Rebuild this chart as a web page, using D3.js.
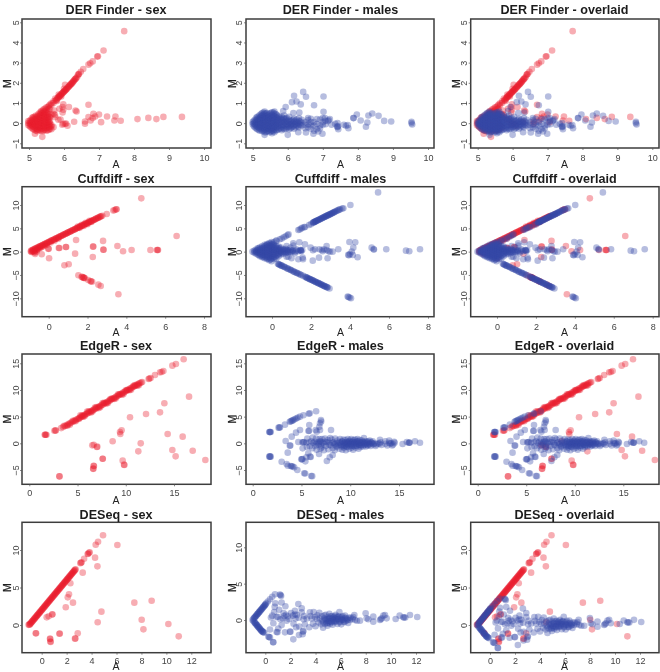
<!DOCTYPE html>
<html><head><meta charset="utf-8">
<script src="https://cdn.jsdelivr.net/npm/d3@7/dist/d3.min.js"></script>
<style>
html,body{margin:0;padding:0;background:#fff;overflow:hidden}
svg{display:block;filter:blur(0.45px)}
text{font-family:"Liberation Sans",Arial,sans-serif}
</style></head><body>
<script>
// ---------- tick labels ----------
const derX=[5,6,7,8,9,10], derY=[-1,0,1,2,3,4,5];
const cuffX=[0,2,4,6,8], cuffY=[-10,-5,0,5,10];
const edgeX=[0,5,10,15], edgeY=[-5,0,5,10,15];
const deseqX=[0,2,4,6,8,10,12], deseqY=[0,5,10];
const methods=["DER Finder","Cuffdiff","EdgeR","DESeq"];
const variants=["sex","males","overlaid"];

// ---------- series values [A, M] ----------
const derSex=[[7.72,4.56],[7.13,3.6],[6.95,3.3],[6.97,3.32],[6.82,3.06],[6.75,2.97],[6.7,2.9],[6.55,2.68],[6.48,2.55],[6.42,2.42],[6.43,2.45],[6.4,2.4],
[9.37,.31],[8.84,.31],[8.64,.2],[8.41,.26],[8.1,.2],[7.62,.12],[7.47,.33],[7.44,.13],[7.23,.33],[7.06,.05],[7,.43],[6.84,.46],[6.7,.91],[6.6,.08],[6.6,-.03],[6.7,.3],[6.82,.25],[6.76,.13],[6.89,.33],[6.29,.07],[6.1,-.13],[6.03,-.03],[5.98,-.03],[6.06,-.02],[6.36,.58],[6.33,.63],[6.14,.8],[5.98,.94],[5.96,.8],[5.98,.66],[5.87,.71],[5.96,.53],[5.74,.41],[5.75,.3],[5.84,.17],[5.38,-.68],[5.17,-.53],[5.72,.62],[5.95,-.08],[5.9,.18],
[4.98,0],[4.98,-.1],[4.98,.1],[5.05,-.2],[5.05,-.08],[5.05,.04],[5.05,.16],[5.12,-.3],[5.12,-.17],[5.12,-.04],[5.12,.09],[5.12,.22],[5.12,.3],
[5.2,-.38],[5.2,-.25],[5.2,-.12],[5.2,.01],[5.2,.14],[5.2,.27],[5.2,.38],[5.27,-.33],[5.27,-.2],[5.27,-.07],[5.27,.06],[5.27,.19],[5.27,.32],[5.27,.45],
[5.35,-.38],[5.35,-.25],[5.35,-.12],[5.35,.01],[5.35,.14],[5.35,.27],[5.35,.4],[5.35,.53],[5.35,.6],[5.42,-.35],[5.42,-.22],[5.42,-.09],[5.42,.04],[5.42,.17],[5.42,.3],[5.42,.43],[5.42,.56],[5.42,.68],
[5.5,-.38],[5.5,-.25],[5.5,-.12],[5.5,.01],[5.5,.14],[5.5,.27],[5.5,.4],[5.5,.53],[5.5,.66],[5.5,.78],[5.57,-.33],[5.57,-.2],[5.57,-.07],[5.57,.06],[5.57,.19],[5.57,.32],[5.57,.45],[5.57,.72],[5.57,.86],
[5.64,-.3],[5.64,-.17],[5.64,-.1],[5.64,.42],[5.64,.9],[5.64,.98],[5.7,-.2],[5.7,.45],[5.7,1],[5.7,1.08],
[5.76,1.12],[5.8,1.2],[5.82,1.26],[5.85,1.3],[5.88,1.36],[5.9,1.4],[5.93,1.45],[5.96,1.5],[5.99,1.55],[6.02,1.6],[6.05,1.65],[6.08,1.7],[6.1,1.75],[6.13,1.8],[6.16,1.86],[6.19,1.92],[6.22,1.97],[6.25,2.03],[6.28,2.1],[6.3,2.15],[6.33,2.2],[6.03,1.9],[5.8,1.1],[5.75,1.22],[5.85,1.42],[5.92,1.32],[6,1.7],
[5.02,-.14],[5.02,-.02],[5.02,.1],[5.09,-.25],[5.09,-.12],[5.09,.01],[5.09,.14],[5.09,.26],[5.16,-.33],[5.16,-.2],[5.16,-.07],[5.16,.06],[5.16,.19],[5.16,.32],[5.24,-.4],[5.24,-.3],[5.24,-.17],[5.24,-.04],[5.24,.09],[5.24,.22],[5.24,.35],[5.31,-.35],[5.31,-.22],[5.31,-.09],[5.31,.04],[5.31,.17],[5.31,.3],[5.31,.43],[5.31,.52],[5.39,-.4],[5.39,-.28],[5.39,-.15],[5.39,-.02],[5.39,.11],[5.39,.24],[5.39,.37],[5.39,.5],[5.39,.62],[5.46,-.33],[5.46,-.2],[5.46,-.07],[5.46,.06],[5.46,.19],[5.46,.32],[5.46,.45],[5.46,.58],[5.46,.72],[5.54,-.35],[5.54,-.22],[5.54,-.09],[5.54,.04],[5.54,.17],[5.54,.3],[5.54,.43],[5.54,.6],[5.54,.8],[5.6,-.28],[5.6,-.15],[5.6,-.02],[5.6,.11],[5.6,.3],[5.6,.7],[5.6,.92],
[5.78,1.15],[5.84,1.27],[5.87,1.33],[5.91,1.38],[5.95,1.47],[5.98,1.53],[6.01,1.58],[6.04,1.63],[6.07,1.68],[6.12,1.78],[6.15,1.84],[6.18,1.9],[6.21,1.95],[6.24,2.01],[6.27,2.08],[6.32,2.18],[6.35,2.24],[6.38,2.3]];

const derMale=[[9.53,.07],[9.55,-.07],[9.53,0],[8.95,.08],[8.75,.11],[8.59,.36],[8.41,.48],[8.3,.38],[8.27,.03],[8.23,-.18],[8.08,.13],[7.97,.43],[7.87,.25],[7.88,.25],[7.73,-.25],[7.71,-.1],[7.6,-.08],[7.66,-.13],[7.41,-.17],[7.42,-.2],[7.43,-.15],[7.42,0],[7.44,-.3],[7.25,-.08],[7.35,-.03],[7.2,.2],[7.02,1.32],[7.02,.56],[7.06,.25],[6.99,-.53],[6.87,-.41],[6.73,-.53],[6.52,-.46],[6.75,.89],[6.52,1.31],[6.44,1.55],[6.18,1.36],[6.25,1.07],[6.12,1.04],[6.37,.93],[6.33,.53],[6.16,.5],[5.94,.8],[5.87,.6],[6,-.58],[6.3,-.45],
[5,-.05],[5,.05],[5.06,-.2],[5.06,-.08],[5.06,.04],[5.06,.16],[5.13,-.3],[5.13,-.17],[5.13,-.04],[5.13,.09],[5.13,.22],[5.13,.32],[5.2,-.38],[5.2,-.25],[5.2,-.12],[5.2,.01],[5.2,.14],[5.2,.27],[5.2,.4],
[5.27,-.4],[5.27,-.27],[5.27,-.14],[5.27,-.01],[5.27,.12],[5.27,.25],[5.27,.38],[5.27,.5],[5.34,-.58],[5.34,-.45],[5.34,-.32],[5.34,-.19],[5.34,-.06],[5.34,.07],[5.34,.2],[5.34,.33],[5.34,.46],[5.34,.58],
[5.41,-.4],[5.41,-.27],[5.41,-.14],[5.41,-.01],[5.41,.12],[5.41,.25],[5.41,.38],[5.41,.5],[5.48,-.45],[5.48,-.32],[5.48,-.19],[5.48,-.06],[5.48,.07],[5.48,.2],[5.48,.33],[5.48,.46],
[5.55,-.5],[5.55,-.37],[5.55,-.24],[5.55,-.11],[5.55,.02],[5.55,.15],[5.55,.28],[5.55,.41],[5.55,.54],[5.62,-.45],[5.62,-.32],[5.62,-.19],[5.62,-.06],[5.62,.07],[5.62,.2],[5.62,.33],[5.62,.46],[5.62,.58],
[5.69,-.35],[5.69,-.2],[5.69,-.05],[5.69,.1],[5.69,.25],[5.69,.4],[5.76,-.25],[5.76,-.1],[5.76,.05],[5.76,.2],[5.76,.35],[5.83,-.35],[5.83,-.18],[5.83,0],[5.83,.15],[5.83,.3],[5.9,-.3],[5.9,-.12],[5.9,.04],[5.9,.2],[5.9,.38],[5.97,-.2],[5.97,-.05],[5.97,.1],[5.97,.25],
[6.04,-.3],[6.04,-.14],[6.04,.02],[6.04,.17],[6.04,.32],[6.11,-.2],[6.11,-.04],[6.11,.12],[6.18,-.28],[6.18,-.1],[6.18,.06],[6.18,.22],[6.25,-.12],[6.25,.04],[6.25,.18],[6.32,-.22],[6.32,-.05],[6.32,.1],[6.32,.25],[6.4,-.12],[6.4,.02],[6.4,.16],[6.5,-.1],[6.5,.05],[6.5,-.25],[6.58,-.2],[6.58,-.05],[6.58,.25],[6.58,.15],[6.66,-.28],[6.66,-.1],[6.66,.05],[6.66,.22],[6.75,-.38],[6.75,-.12],[6.75,.05],[6.83,-.05],[6.83,.2],[6.83,-.3],[6.92,.18],[6.92,-.12],[6.92,-.25],[7,-.08],[7,.05],[7,.25],[7.08,-.05],[7.08,.12],[7.15,.1],[7.17,.15],
[5.03,-.14],[5.03,-.02],[5.03,.1],[5.1,-.25],[5.1,-.12],[5.1,.01],[5.1,.14],[5.1,.27],[5.17,-.33],[5.17,-.2],[5.17,-.07],[5.17,.06],[5.17,.19],[5.17,.33],[5.24,-.32],[5.24,-.18],[5.24,-.05],[5.24,.08],[5.24,.21],[5.24,.34],[5.24,.45],[5.31,-.38],[5.31,-.25],[5.31,-.12],[5.31,.01],[5.31,.14],[5.31,.27],[5.31,.4],[5.31,.52],[5.38,-.45],[5.38,-.3],[5.38,-.17],[5.38,-.04],[5.38,.09],[5.38,.22],[5.38,.35],[5.38,.48],[5.45,-.38],[5.45,-.25],[5.45,-.12],[5.45,.01],[5.45,.14],[5.45,.27],[5.45,.4],[5.52,-.42],[5.52,-.3],[5.52,-.17],[5.52,-.04],[5.52,.09],[5.52,.22],[5.52,.35],[5.52,.5],[5.59,-.4],[5.59,-.27],[5.59,-.14],[5.59,-.01],[5.59,.12],[5.59,.25],[5.59,.38],[5.59,.52],[5.66,-.35],[5.66,-.22],[5.66,-.09],[5.66,.04],[5.66,.17],[5.66,.3],[5.66,.45],[5.73,-.3],[5.73,-.15],[5.73,0],[5.73,.15],[5.73,.3],[5.8,-.28],[5.8,-.12],[5.8,.05],[5.8,.22],[5.87,-.25],[5.87,-.08],[5.87,.08],[5.87,.25],[5.94,-.28],[5.94,-.1],[5.94,.06],[5.94,.22],[6.01,-.2],[6.01,-.05],[6.01,.12],[6.08,-.25],[6.08,-.08],[6.08,.08],[6.15,-.15],[6.15,.02],[6.15,.16],[6.22,-.2],[6.22,-.05],[6.22,.1],[6.3,-.15],[6.3,.02],[6.36,-.08],[6.36,.08]];

const cuffSex=[[4.77,11.43],[6.59,3.36],[3.47,9.07],[3.4,8.93],[3.33,8.8],[3.5,9.1],[2.99,8.07],[5.61,.36],[5.63,.36],[5.57,.36],[5.24,.36],[4.27,.36],[3.83,.07],[3.54,1.2],[2.8,2.3],[2.82,.43],[2.82,.4],[2.28,1.07],[2.3,1.1],[2.27,-1.14],[1.41,2.5],[1.36,-.43],[.9,1],[.88,1],[.55,.79],[.52,.79],[-.02,.64],[0,.6],[.02,-1.43],[-.36,-.57],[-.7,-.5],[.81,-2.93],[1.03,-2.71],[1.53,-5.07],[1.7,-5.43],[1.72,-5.4],[1.78,-5.57],[1.8,-5.57],[1.87,-5.7],[1.82,-5.62],[2.04,-6.07],[2.16,-6.36],[2.18,-6.36],[2.24,-6.45],[2.56,-7.07],[2.68,-7.36],[3.59,-9.14],
[-.9,.21],[-.84,.33],[-.78,.45],[-.72,.57],[-.66,.7],[-.6,.82],[-.54,.94],[-.48,1.07],[-.42,1.19],[-.36,1.31],[-.3,1.44],[-.24,1.56],[-.18,1.68],[-.12,1.8],[-.06,1.93],[0,2.05],[.06,2.17],[.12,2.3],[.18,2.42],[.24,2.54],[.3,2.67],[.36,2.79],[.42,2.91],[.48,3.03],[.54,3.16],[.6,3.28],[.66,3.4],[.72,3.53],[.78,3.65],[.84,3.77],[.9,3.9],[.96,4.02],[1.02,4.14],[1.08,4.26],[1.14,4.39],[1.2,4.51],[1.26,4.63],[1.32,4.76],[1.38,4.88],[1.44,5],[1.5,5.13],[1.56,5.25],[1.62,5.37],[1.68,5.49],[1.74,5.62],[1.8,5.74],[1.86,5.86],[1.92,5.99],[1.98,6.11],[2.04,6.23],[2.1,6.36],[2.16,6.48],[2.22,6.6],[2.28,6.72],[2.34,6.85],[2.4,6.97],[2.46,7.09],[2.52,7.22],[2.58,7.34],[2.64,7.46],[2.7,7.59],[2.76,7.71],
[-.92,.05],[-.88,-.1],[-.85,.1],[-.8,.1],[-.76,-.1],[-.72,.2],[-.7,-.2],[-.66,.3],[-.62,.05],[-.6,.4],[-.56,.55],[-.5,.7],[-.44,.85],[-.38,.95],[-.3,1.1],[-.2,1.3],[-.1,1.5],[.1,1.95],[.3,2.35],[.5,2.75],[1.5,5.4],[1.6,5.1],[1.7,5.75],[1.8,5.5],[1.9,6.2],[2,5.9],[2.1,6.6],[2.2,6.35],
[-.81,.39],[-.69,.64],[-.57,.88],[-.45,1.13],[-.33,1.38],[-.21,1.62],[-.09,1.86],[.03,2.11],[.15,2.36],[.27,2.6],[.39,2.85],[.51,3.09],[.63,3.34],[.75,3.59],[.87,3.84],[.99,4.08],[1.11,4.33],[1.23,4.57],[1.35,4.82],[1.47,5.06],[1.59,5.31],[1.71,5.56],[1.83,5.8],[1.95,6.05],[2.07,6.3],[2.19,6.54],[2.31,6.79],[2.43,7.03],[2.55,7.28],[2.67,7.52]];

const cuffMale=[[5.44,12.7],[4.02,10],[3.66,9.3],[3.6,9.25],[.1,2],[.2,2.3],[.24,2.36],[.4,2.65],[.5,2.8],[.6,3.1],[.7,3.3],[.8,3.55],[.85,3.7],[1.35,4.64],[1.42,4.75],[1.5,4.95],[1.55,5.1],[1.65,5.25],[1.7,5.3],[1.9,5.7],[2,5.9],
[2.1,6.2],[2.14,6.3],[2.18,6.38],[2.22,6.46],[2.26,6.55],[2.3,6.63],[2.35,6.74],[2.4,6.84],[2.45,6.95],[2.5,7.05],[2.55,7.15],[2.6,7.25],[2.65,7.36],[2.7,7.46],[2.75,7.56],[2.8,7.67],[2.85,7.77],[2.9,7.87],[2.95,7.98],[3,8.08],[3.05,8.18],[3.1,8.29],[3.15,8.39],[3.2,8.49],[3.25,8.6],[3.3,8.7],[3.35,8.8],[3.4,8.9],[3.45,9],[3.5,9.1],
[2.12,6.25],[2.2,6.42],[2.28,6.6],[2.38,6.8],[2.48,7],[2.58,7.2],[2.68,7.42],[2.78,7.62],[2.88,7.82],[2.98,8.03],[3.08,8.24],[3.18,8.44],
[.3,-2.6],[.34,-2.7],[.4,-2.8],[.46,-2.95],[.52,-3.05],[.6,-3.2],[.68,-3.35],[.76,-3.55],[.84,-3.7],[.92,-3.85],[1,-4],[1.08,-4.2],[1.16,-4.35],[1.24,-4.5],[1.32,-4.65],[1.4,-4.8],[1.5,-5],[1.7,-5.4],[1.75,-5.5],[1.8,-5.6],[1.85,-5.7],[1.9,-5.8],[1.95,-5.9],[2,-6],[2.05,-6.1],[2.1,-6.2],[2.15,-6.3],[2.2,-6.4],[2.25,-6.5],[2.3,-6.6],[2.35,-6.7],[2.4,-6.8],[2.45,-6.9],[2.5,-7],[2.55,-7.1],[2.6,-7.2],[2.65,-7.3],[2.7,-7.4],[2.75,-7.5],[2.8,-7.6],[2.85,-7.7],[2.95,-7.9],
[.37,-2.75],[.49,-3],[.64,-3.28],[.8,-3.62],[.96,-3.93],[1.12,-4.28],[1.28,-4.58],[1.45,-4.9],[1.6,-5.2],[1.78,-5.55],[1.93,-5.85],[2.08,-6.15],[2.23,-6.45],[2.38,-6.75],[2.53,-7.05],[2.68,-7.35],[2.83,-7.65],
[3.88,-9.64],[3.92,-9.71],[4.05,-10],[3.98,-9.85],[7.59,.5],[7.04,.07],[6.87,.21],[5.86,.5],[5.21,.5],[5.23,.45],[5.11,.86],[4.39,-1.2],[4.27,2],[3.97,2.07],[4.17,.86],[4.09,0],[4.14,-.7],[4,-.5],[3.91,-.7],[3.95,-.75],[3.4,.5],[3.11,0],[2.97,0],[2.8,1.2],[2.85,-1.43],[2.41,-1.29],[2.09,-1.93],[1.98,.86],[2.2,.5],[2.55,.36],[2.67,.5],[2.8,.36],[2.9,.1],[2.6,.1],[2.1,.3],[2.43,.5],[1.69,1.57],[1.4,2],[1.09,1.79],[1.59,-1.64],[1.57,-1.29],[1.35,-1.64],[1.47,.36],[1.48,.2],[1.46,.36],[1.5,.1],[1.55,.35],[1.17,-.36],[1,0],[.84,-1.07],[1,-1.43],[.75,-1.07],[1.25,.5],[1.1,1.3],[.95,.9],[.75,1.2],
[-1,0],[-.92,-.2],[-.92,.2],[-.84,-.4],[-.84,0],[-.84,.4],[-.74,-.6],[-.74,-.1],[-.74,.4],[-.74,.7],[-.62,-1],[-.62,-.5],[-.62,0],[-.62,.5],[-.62,.95],[-.5,-1.2],[-.5,-.7],[-.5,-.2],[-.5,.3],[-.5,.8],[-.5,1.2],[-.38,-1.4],[-.38,-.9],[-.38,-.4],[-.38,.1],[-.38,.6],[-.38,1.1],[-.38,1.45],[-.26,-1.6],[-.26,-1.1],[-.26,-.6],[-.26,-.1],[-.26,.4],[-.26,.9],[-.26,1.4],[-.26,1.65],[-.14,-1.85],[-.14,-1.3],[-.14,-.8],[-.14,-.3],[-.14,.2],[-.14,.7],[-.14,1.2],[-.14,1.85],[-.02,-2.05],[-.02,-1.5],[-.02,-1],[-.02,-.5],[-.02,0],[-.02,.5],[-.02,1],[-.02,1.5],[-.02,2.05],[.1,-1.6],[.1,-1.1],[.1,-.6],[.1,-.1],[.1,.4],[.1,.9],[.1,1.4],[.22,-1.5],[.22,-.8],[.22,-.3],[.22,.2],[.22,.7],[.22,1.2],[.34,-1],[.34,-.5],[.34,0],[.34,.5],[.34,1.1],[.46,-.6],[.46,-.1],[.46,.4],[.46,.9],[.58,-.5],[.58,0],[.58,.5],[.7,-.3],[.7,.2],[.7,.6],[.82,-.2],[.82,.3],[.94,-.1],[.94,.4],[1.06,.1],[1.06,.3],[1.18,0],[1.25,.25],[1.35,.1],
[-.8,-.2],[-.8,.2],[-.68,-.7],[-.68,-.25],[-.68,.25],[-.68,.7],[-.56,-.9],[-.56,-.4],[-.56,.1],[-.56,.6],[-.44,-1.15],[-.44,-.65],[-.44,-.15],[-.44,.35],[-.44,.85],[-.32,-1.25],[-.32,-.75],[-.32,-.25],[-.32,.25],[-.32,.75],[-.32,1.25],[-.2,-1.5],[-.2,-1],[-.2,-.5],[-.2,0],[-.2,.5],[-.2,1],[-.2,1.5],[-.08,-1.7],[-.08,-1.2],[-.08,-.7],[-.08,-.2],[-.08,.3],[-.08,.8],[-.08,1.3],[-.08,1.75],[.04,-1.3],[.04,-.8],[.04,-.3],[.04,.2],[.04,.7],[.04,1.2],[.04,1.7],[.16,-1.2],[.16,-.5],[.16,0],[.16,.5],[.16,1],[.28,-.7],[.28,-.2],[.28,.3],[.28,.8],[.4,-.3],[.4,.2],[.4,.7],[.52,-.25],[.52,.25],[.64,-.1],[.64,.35],[.76,0],[.76,.4],[.88,.1]];

const edgeSex=[[16,15.75],[15.2,14.88],[14.83,14.56],[13.9,13.56],[13.72,13.38],[13.55,13.3],[13.03,12.81],[12.58,12.25],[12.37,12.06],[12.45,12.15],[1.6,1.6],[1.7,1.6],[1.78,1.62],[1.65,1.6],[2.6,2.35],[2.7,2.4],[2.75,2.42],
[16.56,8.75],[14,7.5],[13.55,5.81],[12.1,5.5],[10.44,4.88],[9.57,2.44],[9.4,2.12],[9.44,1.75],[8.64,.38],[14.34,1.75],[15.9,1.25],[11.55,0],[11.3,-1.5],[14.83,-1.25],[16.94,-1.38],[15.17,-2.44],[18.25,-3.12],[9.68,-3.25],[9.85,-4.06],[9.82,-4],[7.6,-2.88],[7.62,-2.9],[7.05,-.62],[7,-.7],[6.53,-.38],[6.68,-.26],[6.67,-4.19],[6.7,-4.25],[6.64,-4.75],[6.62,-4.78],[3.11,-6.19],[3.14,-6.2],
[3.3,2.85],[3.5,3.05],[3.7,3.25],[3.85,3.4],[4,3.55],[4.15,3.7],[4.3,3.85],[4.45,4],[4.6,4.15],[4.72,4.3],[4.85,4.4],[5,4.55],[5.12,4.7],[5.24,4.8],[5.36,4.95],[5.48,5.05],[5.6,5.2],[5.72,5.3],[5.84,5.45],[5.96,5.55],[6.08,5.7],[6.2,5.8],[6.32,5.95],[6.44,6.05],[6.56,6.2],[6.68,6.3],[6.8,6.45],[6.92,6.55],[7.04,6.7],[7.16,6.8],[7.28,6.95],[7.4,7.05],[7.52,7.2],[7.64,7.3],[7.76,7.45],[7.88,7.55],[8,7.7],[8.12,7.8],[8.24,7.95],[8.36,8.05],[8.48,8.2],[8.6,8.3],[8.72,8.45],[8.84,8.55],[8.96,8.7],[9.08,8.8],[9.2,8.95],[9.32,9.05],[9.44,9.2],[9.56,9.3],[9.68,9.45],[9.8,9.55],[9.92,9.7],[10.04,9.8],[10.16,9.95],[10.28,10.05],[10.4,10.2],[10.52,10.3],[10.64,10.45],[10.76,10.55],[10.88,10.7],[11,10.8],[11.12,10.95],[11.24,11.05],[11.36,11.2],[11.48,11.3],[11.6,11.4],[11.7,11.5],
[5.3,5.25],[5.6,5],[6,5.95],[6.4,5.8],[6.8,6.7],[7.2,6.6],[7.6,7.55],[8,7.45],[8.4,8.3],[8.8,8.3],[9.2,9.2],[9.6,9.1],[10,9.95],[10.4,9.95],[10.8,10.8],[11.2,10.8],
[5.15,4.55],[5.45,5.2],[5.75,5.1],[6.15,6],[6.55,5.95],[6.95,6.8],[7.35,6.75],[7.75,7.6],[8.15,7.55],[8.55,8.4],[8.95,8.4],[9.35,9.25],[9.75,9.2],[10.15,10.05],[10.55,10.05],[10.95,10.9],[11.35,10.9],[4.2,3.5],[4.5,4.2],[4.8,4.15],[3.6,3.3],[3.95,3.3]];

const edgeMale=[[1.7,2.12],[1.78,2.12],[1.85,2.12],[1.75,2.1],[2.65,2.94],[2.73,2.94],[2.8,3],[3.31,3.5],[3.8,4.05],[3.9,4.12],[4,4.2],[4.1,4.3],[4.2,4.4],[4.35,4.55],[4.5,4.7],[4.65,4.85],[4.85,5],[5.2,5.25],[5.75,5.55],[5.85,5.65],[6.5,6],
[1.7,-2.5],[1.78,-2.5],[1.85,-2.5],[1.75,-2.45],[2.97,-3.44],[3.48,-3.88],[3.6,-4.2],[3.9,-4.25],[4,-4.3],[4.1,-4.35],[4.25,-4.5],[4.58,-5],[5.28,-5.6],[5.38,-5.65],[6,-6.12],[6.1,-6.15],
[4,1.25],[4.44,2],[4.85,2.5],[5.8,3.44],[5.72,2.31],[5.78,2.35],[6.46,2.5],[7,4.38],[7.02,4.1],[6.9,3.75],[6.83,3.1],[6.9,2.5],[6.56,2.19],[8.03,2.5],[3.38,.44],[3.8,-.44],[3.86,-.4],[3.59,-1.75],[4.68,.25],[4.98,-3],[5.05,-3],[5.1,-2.95],[5.4,-3.38],[5.88,-2.5],[5.95,-2.55],[5.7,-1.88],[5.5,-2.6],[7.6,-3.3],[7.9,-2.6],[8.2,-2.2],[7,-.4],[6.8,-2],
[5.12,-.94],[5.1,.19],[5.18,.2],[5.25,.25],[5.5,.1],[5.55,-.7],[5.6,.9],[5.8,.2],[5.85,-.55],[6,.4],[6.1,-.9],[6.15,1.1],[6.2,.1],[6.35,.3],[6.4,-.5],[6.5,.9],[6.55,-1.2],[6.6,.1],[6.75,-.2],[6.85,.8],[6.9,.4],[6.95,-1],[7.05,-.8],[7.1,.8],[7.2,.1],[7.3,-1.3],[7.4,.9],[7.45,.3],[7.5,-.5],[7.7,.6],[7.75,-1.1],[7.85,.1],[7.95,1],[8,-.4],[8.1,.7],[8.2,-.9],[8.3,.2],[8.4,-1.3],[8.45,.9],[8.5,-.1],[8.6,-.7],[8.7,.5],[8.8,-.3],[8.9,-1],[8.95,.8],[9,.1],
[9.1,-.6],[9.15,.4],[9.2,-1.2],[9.25,-.2],[9.3,.7],[9.35,-.8],[9.4,.1],[9.45,-.4],[9.5,.6],[9.55,-1.3],[9.6,-.1],[9.65,.3],[9.7,-.7],[9.75,.8],[9.8,-.3],[9.85,.2],[9.9,-1],[9.95,.5],[10,-.5],[10.05,0],[10.1,.8],[10.15,-.8],[10.2,.3],[10.25,-.2],[10.3,-1.2],[10.35,.6],[10.4,-.5],[10.45,.1],[10.5,.7],[10.55,-.8],[10.6,-.1],[10.65,.4],[10.7,-.5],[10.75,.8],[10.8,0],[10.85,-1],[10.9,.3],[10.95,-.3],[11,.6],[11.05,-.7],[11.1,.1],[11.15,-.3],[11.2,.5],[11.3,-.6],[11.35,.2],[11.4,1],[11.5,-.2],[11.55,.4],[11.6,-.6],[11.7,.1],[11.75,-.3],[11.85,.4],[11.95,-.1],[12,.5],[12.1,-.5],[12.2,.1],[12.3,.4],[12.4,-.2],[12.6,-.5],[12.9,0],[13.05,.65],[13.1,.2],[13.2,-.3],[13.6,.4],[13.6,-.1],[13.8,-.4],[14,.5],[14.1,-.1],[14.3,-.4],[14.4,-.2],[14.5,.3],[14.55,.1],[15.37,-.12],[15.8,.25],[16,.12],[16.05,.1],[16.1,.14],[16.64,.38],[17.15,.12],
[8.2,.1],[8.6,-.5],[8.9,.2],[9.05,-.3],[9.2,.3],[9.3,-.5],[9.4,-.1],[9.5,.2],[9.6,-.6],[9.7,.1],[9.8,-.1],[9.9,.4],[10,-.2],[10.1,.1],[10.2,-.5],[10.3,.3],[10.4,-.1],[10.5,.2],[10.6,-.4],[10.7,.1],[10.8,.4],[10.9,-.2],[11,.1],[11.1,-.4],[11.2,.1],[11.3,.3],[11.4,-.2],[11.5,.1],[11.6,-.1],[11.7,.3],[11.8,-.4],[11.9,.1],[12,-.2],[12.15,.2],[12.3,-.1],[12.5,0],[12.7,-.2],[13,-.1],[14,.1],[14.2,.05],[7,.3],[7.3,-.2],[7.6,.2],[7.9,-.3],[6.8,.2],[6.5,-.2],[8.4,-.2],[8.7,.1]];

const deseqSex=[[4.92,11.96],[4.52,11.11],[4.33,10.71],[6.07,10.67],[3.8,9.64],[3.85,9.7],[3.69,9.47],[3.72,9.5],[3.4,8.84],[3.1,8.25],[3.15,8.31],[3.2,8.36],[4.28,8.98],[4.47,7.82],[3.29,6.98],[2.3,5.56],[2.19,4.09],[2.09,3.69],[2.51,2.98],[1.93,2.36],[4.79,1.78],[4.49,.36],[7.43,2.98],[8.82,3.24],[8.02,.71],[8.16,-.58],[10.16,.13],[10.99,-1.51],[2.89,-1.11],[2.67,-1.82],[2.7,-1.8],[1.42,-1.16],[1.45,-1.13],[.67,-1.82],[.68,-1.86],[.72,-2.27],[.7,-2.2],[-.48,-1.11],[-.45,-1.1],[.86,1.42],[.84,1.4],[.4,1.02],[.56,1.16],
[-1.05,.02],[-1,.05],[-.95,.08],[-.92,.16],[-.88,.24],[-.84,.32],[-.8,.4],[-.76,.48],[-.72,.56],[-.68,.64],[-.64,.72],[-.6,.8],[-.56,.88],[-.52,.96],[-.48,1.04],[-.44,1.12],[-.4,1.2],[-.36,1.28],[-.32,1.36],[-.28,1.44],[-.24,1.52],[-.2,1.6],[-.16,1.68],[-.12,1.76],[-.08,1.84],[-.04,1.92],[0,2],[.04,2.08],[.08,2.16],[.12,2.24],[.16,2.32],[.2,2.4],[.24,2.48],[.28,2.56],[.32,2.64],[.36,2.72],[.4,2.8],[.44,2.88],[.48,2.96],[.52,3.04],[.56,3.12],[.6,3.2],[.64,3.28],[.68,3.36],[.72,3.44],[.76,3.52],[.8,3.6],[.84,3.68],[.88,3.76],[.92,3.84],[.96,3.92],[1,4],[1.04,4.08],[1.08,4.16],[1.12,4.24],[1.16,4.32],[1.2,4.4],[1.24,4.48],[1.28,4.56],[1.32,4.64],[1.36,4.72],[1.4,4.8],[1.44,4.88],[1.48,4.96],[1.52,5.04],[1.56,5.12],[1.6,5.2],[1.64,5.28],[1.68,5.36],[1.72,5.44],[1.76,5.52],[1.8,5.6],[1.84,5.68],[1.88,5.76],[1.92,5.84],[1.96,5.92],[2,6],[2.04,6.08],[2.08,6.16],[2.12,6.24],[2.16,6.32],[2.2,6.4],[2.24,6.48],[2.28,6.56],[2.32,6.64],[2.36,6.72],[2.4,6.8],[2.44,6.88],[2.48,6.96],[2.52,7.04],[2.56,7.12],[2.6,7.2],[2.64,7.28],[2.68,7.36],[2.72,7.44]];

const deseqMale=[[-1.02,0],[-.95,.15],[-.95,-.15],[-.88,.28],[-.82,.4],[-.76,.52],[-.7,.65],[-.64,.78],[-.58,.9],[-.52,1.02],[-.46,1.15],[-.4,1.28],[-.34,1.4],[-.28,1.52],[-.22,1.65],[-.16,1.78],[-.1,1.9],[-.04,2.02],[.02,2.15],[.07,2.3],[.2,2.55],[.37,2.84],[.55,3.2],[.77,3.53],[1.16,3.5],[1.22,3.44],[1.26,3.3],
[-.85,.34],[-.73,.58],[-.61,.84],[-.49,1.08],[-.37,1.34],[-.25,1.58],[-.13,1.84],[-.01,2.08],
[-.88,-.28],[-.82,-.4],[-.76,-.52],[-.7,-.65],[-.64,-.78],[-.58,-.9],[-.52,-1.02],[-.46,-1.15],[-.4,-1.28],[-.34,-1.4],[-.28,-1.52],[-.22,-1.6],[-.16,-1.68],[-.08,-1.75],[-.79,-.46],[-.67,-.7],[-.55,-.96],[-.43,-1.22],[-.31,-1.46],[-.19,-1.64],[.25,-2.3],[.3,-2.35],[.37,-2.39],[.64,-3.07],[.62,-3.05],
[12.1,.41],[11.52,.69],[10.99,.37],[11.05,.35],[11.15,.33],[10.7,.6],[10.38,.14],[9.66,.23],[9.53,.69],[9.4,.6],[9.13,0],[9.26,.23],[9.2,.1],[8.6,.46],[8.6,-.23],[7.99,.92],[8.07,.23],[8.2,.1],[7.54,-.09],[7.3,-.1],[7.09,.69],[7.14,0],[7,.4],[6.95,.15],
[2.23,-2.66],[2.68,-2.06],[2.97,-1.97],[3.03,-1.5],[3,-1.6],[1.96,-1.6],[2,-1.62],[1.57,-1.7],[.9,-1.65],[.97,-1.68],[.37,-1.3],[.64,-.45],[1.03,-1.16],[1.3,-.7],[2.63,2.2],[2.9,1.6],[2.36,1.25],
[.45,.35],[.55,.6],[.7,1.1],[.75,1.8],[.8,2.3],[.9,.4],[1,.45],[1.1,1.4],[1.2,.1],[1.3,2.4],[1.4,.2],[1.45,.95],[1.5,.55],[1.6,1.9],[1.65,.7],[1.7,-.1],[1.8,.5],[1.9,.15],[2.05,.95],[2.2,.6],[2.25,-.5],[2.35,.75],[2.4,.2],[2.45,-1],[2.5,.7],[2.65,.3],[2.7,-.9],[2.9,1.05],[3.05,.1],[3.1,.55],[3.15,-.6],[3.3,.2],[3.5,-1],[3.55,1.05],[3.6,.55],[3.7,.2],[3.8,-.5],[3.85,1.1],[3.95,.4],[4,-.85],[4.1,.15],[4.15,.65],[4.25,-.35],[4.3,1],[4.35,.2],[4.45,-.6],[4.5,.5],[4.55,-.1],[4.6,-1.05],[4.7,.25],[4.75,-.5],[4.8,.7],[4.85,-.2],[4.9,.1],[4.95,-.8],[5,.45],[5.02,-.1],[5.1,.85],[5.15,-.5],[5.15,.25],[5.25,-.2],[5.3,.55],[5.35,-.65],[5.4,.1],[5.45,.4],[5.5,-.3],[5.55,.25],[5.6,.7],[5.65,-.1],[5.7,.35],[5.75,-.55],[5.8,.1],[5.85,.5],[5.9,1.1],[5.95,-.2],[6,.3],[6.05,-.6],[6.1,.05],[6.15,.55],[6.25,-.25],[6.3,.2],[6.35,.6],[6.45,-.1],[6.5,.15],[6.6,-.4],[6.65,.35],[6.75,0],
[4.6,-.3],[4.7,.6],[4.8,.05],[4.9,-.45],[5,-.4],[5.05,.2],[5.1,-.2],[5.2,.5],[5.3,-.3],[5.35,.2],[5.45,-.1],[5.55,.55],[5.6,-.2],[5.7,.1],[5.8,.45],[5.9,-.3],[6,.1],[6.1,.4],[6.2,0],[6.3,-.3],[6.4,.3],[6.55,0],[6.8,.3]];

// ---------- colours and layout ----------
const RED="#e91c2b", BLUE="#3549a6", OPACITY=0.36, R=3.3;
const W=660,H=672;
// per column: box edges, M label centre, y tick gap, title/A label centre
const columns=[{l:22,r:211,mx:7,gap:2.8,cx:116},{l:246,r:434,mx:232,gap:3.8,cx:340.5},{l:470.7,r:659,mx:456,gap:3.5,cx:564.5}];
// per row: box edges, title centre, A label centre, x tick label offset
const rowsLayout=[
 {t:19,b:148,title:9,aLab:164,tickOff:6.8},
 {t:186.7,b:316.7,title:178,aLab:332,tickOff:7.1},
 {t:354,b:484.3,title:345,aLab:500,tickOff:5.5},
 {t:522.3,b:652.7,title:514,aLab:666,tickOff:4.6}];
// pixel position of first/last x tick per [row][column], and of first/last y tick per [row][column]
const xPx=[[[29,204],[252.7,428],[477.7,652.3]],[[48.7,204],[272,428],[497,652.7]],[[29.3,174],[252.7,399],[477.7,623.3]],[[41.7,191.3],[265.3,416],[490,640]]];
const yPx=[[[143.3,22.3],[143.3,22.3],[143.3,22.3]],[[298.3,205],[298.3,205],[298.3,205]],[[470,363.3],[470,363.3],[470,363.3]],[[625,550],[620,547.3],[625,550]]];

const ticksX=[derX,cuffX,edgeX,deseqX], ticksY=[derY,cuffY,edgeY,deseqY];
const sexData=[derSex,cuffSex,edgeSex,deseqSex], maleData=[derMale,cuffMale,edgeMale,deseqMale];

const svg=d3.select("body").append("svg").attr("width",W).attr("height",H);

methods.forEach((method,ri)=>{
 variants.forEach((variant,ci)=>{
  const rl=rowsLayout[ri], cl=columns[ci];
  const tx=ticksX[ri], ty=ticksY[ri];
  const x=d3.scaleLinear().domain([tx[0],tx[tx.length-1]]).range(xPx[ri][ci]);
  const y=d3.scaleLinear().domain([ty[0],ty[ty.length-1]]).range(yPx[ri][ci]);
  const g=svg.append("g");
  const layers=variant==="sex"?[[sexData[ri],RED]]:variant==="males"?[[maleData[ri],BLUE]]:[[sexData[ri],RED],[maleData[ri],BLUE]];
  layers.forEach(([pts,col])=>{
   g.append("g").selectAll("circle").data(pts).join("circle")
    .attr("cx",d=>x(d[0])).attr("cy",d=>y(d[1])).attr("r",R)
    .attr("fill",col).attr("fill-opacity",OPACITY);
  });
  g.append("rect").attr("x",cl.l).attr("y",rl.t).attr("width",cl.r-cl.l).attr("height",rl.b-rl.t)
   .attr("fill","none").attr("stroke","#3d3d3d").attr("stroke-width",1.5);
  // x axis
  const ax=g.append("g").attr("transform",`translate(0,${rl.b})`)
   .call(d3.axisBottom(x).tickValues(tx).tickFormat(d3.format("d")).tickSize(2).tickPadding(rl.tickOff-2));
  ax.select(".domain").remove();
  ax.selectAll("line").attr("stroke","#555").attr("stroke-width",.7);
  ax.selectAll("text").attr("fill","#444").attr("font-size",9);
  // y axis with rotated labels
  const ay=g.append("g").attr("transform",`translate(${cl.l},0)`)
   .call(d3.axisLeft(y).tickValues(ty).tickFormat(d3.format("d")).tickSize(2));
  ay.select(".domain").remove();
  ay.selectAll("line").attr("stroke","#555").attr("stroke-width",.7);
  ay.selectAll("text").attr("fill","#444").attr("font-size",9)
   .attr("x",0).attr("dy",0).attr("y",-cl.gap).attr("text-anchor","middle").attr("transform","rotate(-90)");
  // labels
  g.append("text").attr("x",cl.cx).attr("y",rl.title).attr("dy",".36em").attr("text-anchor","middle")
   .attr("font-size",12.6).attr("font-weight","bold").attr("fill","#1c1c1c").text(`${method} - ${variant}`);
  g.append("text").attr("x",cl.cx).attr("y",rl.aLab).attr("dy",".36em").attr("text-anchor","middle")
   .attr("font-size",10.5).attr("fill","#222").text("A");
  const my=(rl.t+rl.b)/2;
  g.append("text").attr("transform",`translate(${cl.mx},${my}) rotate(-90)`).attr("dy",".36em").attr("text-anchor","middle")
   .attr("font-size",10.5).attr("fill","#222").attr("stroke","#222").attr("stroke-width",.25).text("M");
 });
});
</script>
</body></html>
